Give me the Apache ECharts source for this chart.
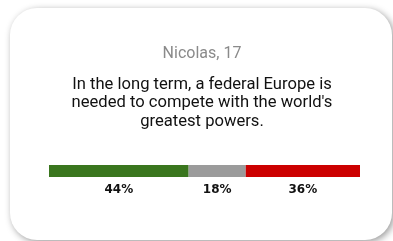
<!DOCTYPE html>
<html><head><meta charset="utf-8">
<script src="https://cdn.jsdelivr.net/npm/echarts@6/dist/echarts.min.js"></script>
<style>html,body{margin:0;padding:0;background:#fff}#c{width:393px;height:241px}</style>
</head><body><div id="c"></div>
<script>
const speaker = "Nicolas, 17";
const statement = "In the long term, a federal Europe is\nneeded to compete with the world's\ngreatest powers.";
const categories = ["Agree", "Neutral", "Disagree"];
const values = [44, 18, 36];
const colors = ["#3a761e", "#9b9b9b", "#cc0000"];

const chart = echarts.init(document.getElementById('c'), null, {renderer: 'canvas'});
const total = values.reduce((a, b) => a + b, 0);
chart.setOption({
  animation: false,
  backgroundColor: '#ffffff',
  graphic: [{
    type: 'rect', z: -10, silent: true,
    shape: {x: 10, y: 8, width: 382, height: 232, r: 27},
    style: {fill: '#fff', shadowBlur: 7, shadowColor: 'rgba(0,0,0,0.4)', shadowOffsetX: 2, shadowOffsetY: 2}
  }, {
    type: 'text', x: 202, y: 54, silent: true,
    style: {text: speaker, fontFamily: 'Roboto', fontSize: 16, fill: '#8a8a8a', align: 'center', verticalAlign: 'middle'}
  }, {
    type: 'text', x: 202, y: 103, silent: true,
    style: {text: statement, fontFamily: 'Roboto', fontSize: 16.6, lineHeight: 18.5, fill: '#111', align: 'center', verticalAlign: 'middle'}
  }],
  grid: {left: 49, width: 311, top: 165, height: 12},
  xAxis: {type: 'value', min: 0, max: total, show: false},
  yAxis: {type: 'category', data: ['r'], show: false},
  series: categories.map((c, i) => ({
    name: c, type: 'bar', stack: 's', barWidth: 12,
    data: [values[i]],
    itemStyle: {color: colors[i]},
    label: {show: true, position: 'bottom', distance: 7, formatter: values[i] + '%',
      fontFamily: 'DejaVu Sans', fontWeight: 'bold', fontSize: 12, color: '#111'}
  }))
});
</script></body></html>
